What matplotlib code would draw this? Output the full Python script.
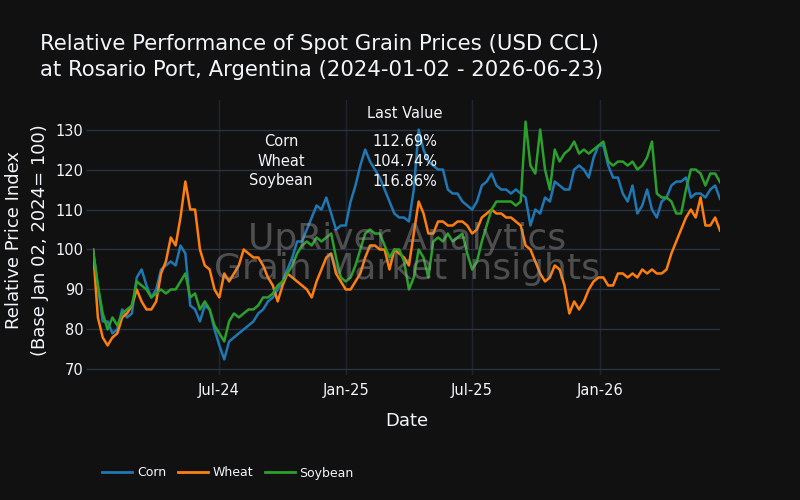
import matplotlib
matplotlib.use("Agg")
import matplotlib.pyplot as plt
import pandas as pd

start_date = "2024-01-02"
series_names = ["Corn", "Wheat", "Soybean"]

corn = [100, 91, 82, 82, 79, 80, 85, 83, 84, 93, 95, 91, 88, 90, 95, 96, 97, 96, 101, 99,
        86, 85, 82, 86, 85, 80, 76, 72.5, 77, 78, 79, 80, 81, 82, 84, 85, 87, 88, 90, 92,
        95, 98, 102, 102, 105, 108, 111, 110, 113, 109, 105, 106, 106, 112, 116, 121, 125, 122, 120, 118,
        115, 112, 109, 108, 108, 107, 115, 130, 125, 122, 121, 120, 120, 115, 114, 114, 112, 111, 110, 112,
        116, 117, 119, 116, 115, 115, 114, 115, 114, 113, 106, 110, 109, 113, 112, 117, 116, 115, 115, 120,
        121, 120, 118, 123, 126, 126, 121, 118, 118, 114, 112, 116, 109, 111, 115, 110, 108, 112, 113, 116,
        117, 117, 118, 113, 114, 114, 113, 115, 116, 112.69]

wheat = [100, 83, 78, 76, 78, 79, 83, 84, 86, 90, 87, 85, 85, 87, 94, 97, 103, 101, 108, 117,
         110, 110, 100, 96, 95, 90, 88, 94, 92, 94, 96, 100, 99, 98, 98, 96, 93, 91, 87, 91,
         94, 93, 92, 91, 90, 88, 92, 95, 98, 99, 94, 92, 90, 90, 92, 94, 98, 101, 101, 100,
         100, 95, 100, 99, 98, 96, 104, 112, 109, 104, 104, 107, 107, 106, 106, 107, 107, 106, 104, 105,
         108, 109, 110, 109, 109, 108, 108, 107, 106, 101, 100, 97, 94, 92, 93, 96, 95, 91, 84, 87,
         85, 87, 90, 92, 93, 93, 91, 91, 94, 94, 93, 94, 93, 95, 94, 95, 94, 94, 95, 99,
         102, 105, 108, 110, 108, 113, 106, 106, 108, 104.74]

soybean = [100, 91, 84, 80, 83, 81, 84, 85, 86, 92, 91, 90, 88, 89, 90, 89, 90, 90, 92, 94,
           88, 89, 85, 87, 85, 81, 79, 77, 82, 84, 83, 84, 85, 85, 86, 88, 88, 89, 91, 92,
           94, 96, 99, 101, 102, 101, 103, 102, 103, 104, 98, 93, 92, 93, 96, 100, 104, 105, 104, 104,
           101, 98, 100, 100, 97, 90, 93, 100, 98, 93, 102, 103, 102, 104, 102, 103, 104, 99, 95, 97,
           102, 106, 110, 112, 112, 112, 112, 111, 112, 132, 121, 119, 130, 120, 115, 125, 122, 124, 125, 127,
           124, 125, 124, 125, 126, 127, 122, 121, 122, 122, 121, 122, 120, 121, 123, 127, 114, 113, 113, 112,
           109, 109, 115, 120, 120, 119, 116, 119, 119, 116.86]

xtick_dates = ["2024-07-01", "2025-01-01", "2025-07-01", "2026-01-01"]
xtick_labels = ["Jul-24", "Jan-25", "Jul-25", "Jan-26"]
ytick_values = [70, 80, 90, 100, 110, 120, 130]

dates = pd.date_range(start_date, periods=len(corn), freq="7D")
df = pd.DataFrame({"Corn": corn, "Wheat": wheat, "Soybean": soybean}, index=dates)

BG = "#111111"
GRID = "#283442"
TXT = "#f2f5fa"
colors = ["#1f77b4", "#ff7f0e", "#2ca02c"]

plt.rcParams["font.family"] = ["DejaVu Sans"]

fig = plt.figure(figsize=(8, 5), dpi=100, facecolor=BG)
ax = fig.add_axes([93 / 800, 125 / 500, 627 / 800, 275 / 500])
ax.set_facecolor(BG)

for name, c in zip(series_names, colors):
    ax.plot(df.index, df[name], color=c, lw=1.8, label=name, zorder=3)

ax.set_xlim(df.index[0], df.index[-1])
ax.set_ylim(68.6, 137.4)
ax.set_yticks(ytick_values)
ax.set_xticks(pd.to_datetime(xtick_dates))
ax.set_xticklabels(xtick_labels)
ax.grid(True, axis="y", color=GRID, lw=1, zorder=0)
ax.grid(True, axis="x", color="#1e2730", lw=1, zorder=0)
ax.set_axisbelow(True)
for s in ax.spines.values():
    s.set_visible(False)
ax.tick_params(axis="both", colors=TXT, labelsize=10.5, length=0, pad=6)
ax.tick_params(axis="y", length=5, color=GRID, width=1, pad=2)

ax.set_xlabel("Date", color=TXT, fontsize=13, labelpad=10)

# y label (two lines)
fig.text(14 / 800, 1 - 240 / 500, "Relative Price Index", rotation=90, color=TXT,
         fontsize=13, ha="center", va="center")
fig.text(40 / 800, 1 - 240 / 500, "(Base Jan 02, 2024= 100)", rotation=90, color=TXT,
         fontsize=13, ha="center", va="center")

# title
fig.text(40 / 800, 1 - 44 / 500, "Relative Performance of Spot Grain Prices (USD CCL)",
         color=TXT, fontsize=15.3, ha="left", va="center")
fig.text(40 / 800, 1 - 70 / 500, "at Rosario Port, Argentina (2024-01-02 - 2026-06-23)",
         color=TXT, fontsize=15.3, ha="left", va="center")

# watermark
fig.text(407 / 800, 1 - 239 / 500, "UpRiver Analytics", color="#9a9a9a", alpha=0.45,
         fontsize=26, ha="center", va="center", zorder=10)
fig.text(407 / 800, 1 - 269 / 500, "Grain Market Insights", color="#9a9a9a", alpha=0.45,
         fontsize=26, ha="center", va="center", zorder=10)

# last value table
fig.text(405 / 800, 1 - 113 / 500, "Last Value", color=TXT, fontsize=10.5, ha="center", va="center")
last_vals = [corn[-1], wheat[-1], soybean[-1]]
for i, (n, v) in enumerate(zip(series_names, last_vals)):
    yy = 1 - (141 + 20 * i) / 500
    fig.text(281 / 800, yy, n, color=TXT, fontsize=10.5, ha="center", va="center")
    fig.text(405 / 800, yy, f"{v:.2f}%", color=TXT, fontsize=10.5, ha="center", va="center")

leg = fig.legend(loc="center left", bbox_to_anchor=(91 / 800, 1 - 473 / 500), ncol=3,
                 frameon=False, fontsize=9, handlelength=2.4, columnspacing=0.9,
                 handletextpad=0.4, labelcolor=TXT)
for line in leg.get_lines():
    line.set_linewidth(2)

fig.savefig("out.png", dpi=100, facecolor=BG)
